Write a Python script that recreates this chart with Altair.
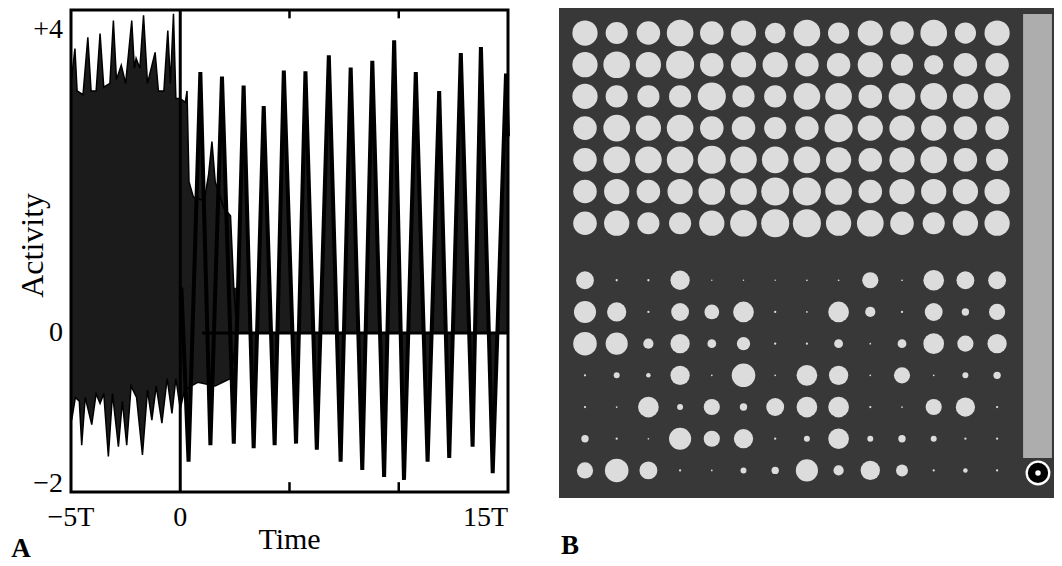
import math
import altair as alt
import pandas as pd

# ---------------- Panel A data ----------------
# upper envelope of the chaotic (pre-stimulus) activity and the transition
upper_t = [-5.0, -4.82, -4.72, -4.45, -4.23, -4.08, -3.85, -3.67, -3.5, -3.22, -3.06, -2.92,
           -2.70, -2.5, -2.22, -2.1, -2.02, -1.85, -1.68, -1.5, -1.15, -1.0, -0.75, -0.57,
           -0.45, -0.31, -0.2, 0.0, 0.23, 0.31, 0.40, 0.6, 1.1, 1.3, 1.45, 1.6, 2.0, 2.3, 2.45, 2.6]
upper_v = [3.3, 3.76, 3.2, 3.15, 3.91, 3.2, 3.2, 3.96, 3.25, 3.3, 4.13, 3.35,
           3.54, 3.3, 4.13, 3.5, 3.63, 3.5, 4.2, 3.3, 3.71, 3.2, 3.2, 4.0,
           3.3, 4.22, 3.1, 3.1, 3.05, 3.2, 2.0, 1.8, 1.75, 2.1, 2.53, 2.0, 1.65, 1.55, 0.6, 0.0]
# lower envelope
lower_t = [-5.0, -4.97, -4.8, -4.62, -4.51, -4.35, -4.05, -3.85, -3.67, -3.5, -3.29, -3.1,
           -2.83, -2.65, -2.45, -2.25, -2.0, -1.73, -1.5, -1.3, -1.1, -0.84, -0.6, -0.38,
           -0.2, 0.0, 0.2, 0.8, 1.6, 2.3, 2.6]
lower_v = [-1.0, -1.15, -0.85, -0.9, -1.48, -0.85, -1.21, -0.8, -0.93, -0.8, -1.63, -0.8,
           -1.5, -0.9, -1.48, -0.7, -0.85, -1.61, -0.75, -1.15, -0.7, -1.19, -0.6, -1.06,
           -0.6, -1.0, -0.75, -0.65, -0.7, -0.6, 0.0]
# post-stimulus oscillation: alternating troughs and peaks
osc_t = [0.05, 0.38, 0.92, 1.38, 1.91, 2.45, 2.9, 3.36, 3.82, 4.32, 4.74, 5.3, 5.73, 6.25,
         6.8, 7.34, 7.8, 8.33, 8.79, 9.33, 9.79, 10.24, 10.78, 11.32, 11.85, 12.31, 12.84,
         13.38, 13.76, 14.3, 14.91, 15.0]
osc_v = [0.6, -1.70, 3.45, -1.48, 3.39, -1.46, 3.27, -1.52, 3.0, -1.48, 3.47, -1.46, 3.46, -1.54,
         3.67, -1.70, 3.51, -1.81, 3.6, -1.90, 3.87, -1.94, 3.45, -1.70, 3.2, -1.65, 3.7,
         -1.5, 3.78, -1.85, 3.43, 2.6]

y_tick_values = [4, 0, -2]
y_tick_labels = ["+4", "0", "\u22122"]
x_center_values = [-5, 0]
x_center_labels = ["\u22125T", "0"]
x_right_values = [15]
x_right_labels = ["15T"]
minor_ticks = [5, 10]

# ---------------- Panel B data (unit activities, 0..1) ----------------
top_rows = [
    [.89, .78, .83, .94, .83, .89, .73, .94, .75, .89, .83, .94, .75, .89],
    [.89, .94, .89, .99, .83, .89, .89, .83, .83, .89, .78, .68, .83, .83],
    [.89, .78, .78, .78, .99, .78, .78, .94, .94, .83, .94, .94, .89, .94],
    [.83, .94, .89, .94, .83, .83, .78, .83, .99, .89, .89, .89, .83, .83],
    [.83, .94, .94, .94, .99, .94, .94, .94, .89, .83, .89, .94, .83, .78],
    [.83, .89, .83, .89, .94, .94, .99, .99, .94, .83, .89, .89, .89, .89],
    [.83, .89, .78, .78, .89, .94, .99, .99, .89, .94, .83, .78, .89, .89],
]
bottom_rows = [
    [.63, .08, .08, .68, .05, .05, .05, .06, .06, .57, .06, .73, .63, .63],
    [.78, .68, .08, .63, .52, .73, .08, .06, .73, .36, .08, .63, .26, .57],
    [.83, .78, .36, .68, .31, .47, .08, .08, .31, .06, .31, .73, .57, .68],
    [.08, .21, .16, .68, .06, .83, .06, .73, .68, .06, .57, .06, .21, .26],
    [.08, .06, .73, .21, .57, .26, .63, .73, .73, .08, .06, .57, .68, .08],
    [.26, .08, .06, .78, .57, .68, .08, .21, .73, .21, .26, .21, .08, .08],
    [.57, .83, .63, .08, .06, .21, .26, .78, .36, .68, .42, .08, .16, .08],
]

FONT = "Liberation Serif"
FILL = "#1b1b1b"

# ---------------- Panel A (left part of the drawing area) ----------------
xs = alt.Scale(domain=[-5, 15], range=[0, 437], nice=False, zero=False)
ys = alt.Scale(domain=[-2.1, 4.27], range=[482, 0], nice=False, zero=False)


def XA(field="t"):
    return alt.X(f"{field}:Q", scale=xs, axis=None)


def YA(field="v"):
    return alt.Y(f"{field}:Q", scale=ys, axis=None)


up_df = pd.DataFrame({"t": upper_t, "v": upper_v})
lo_df = pd.DataFrame({"t": lower_t, "v": lower_v})
osc_df = pd.DataFrame({"t": osc_t, "v": osc_v})

up_area = alt.Chart(up_df).mark_area(color=FILL).encode(x=XA(), y=YA(), y2=alt.datum(0.0))
up_line = alt.Chart(up_df).mark_line(color="black", strokeWidth=1.5).encode(x=XA(), y=YA())
lo_area = alt.Chart(lo_df).mark_area(color=FILL).encode(x=XA(), y=YA(), y2=alt.datum(0.6))
lo_line = alt.Chart(lo_df).mark_line(color="black", strokeWidth=1.5).encode(x=XA(), y=YA())
osc_area = alt.Chart(osc_df).mark_area(color=FILL).encode(x=XA(), y=YA(), y2=alt.datum(0))
osc_line = alt.Chart(osc_df).mark_line(color="black", strokeWidth=4).encode(x=XA(), y=YA())

zero_rule = alt.Chart(pd.DataFrame({"t": [1.0], "t2": [15.0], "v": [0.0]})).mark_rule(
    color="black", strokeWidth=3).encode(x=XA(), x2="t2:Q", y=YA())
v_rule = alt.Chart(pd.DataFrame({"t": [0.0], "v": [-2.1], "v2": [4.27]})).mark_rule(
    color="black", strokeWidth=3).encode(x=XA(), y=YA(), y2="v2:Q")
tick_df = pd.DataFrame({
    "t": minor_ticks + minor_ticks,
    "v": [4.27] * len(minor_ticks) + [-2.1] * len(minor_ticks),
    "v2": [4.16] * len(minor_ticks) + [-1.97] * len(minor_ticks),
})
ticks = alt.Chart(tick_df).mark_rule(color="black", strokeWidth=2.5).encode(x=XA(), y=YA(), y2="v2:Q")
frame = alt.Chart(pd.DataFrame({"t": [-5.0], "t2": [15.0], "v": [-2.1], "v2": [4.27]})).mark_rect(
    fillOpacity=0, stroke="black", strokeWidth=3).encode(x=XA(), x2="t2:Q", y=YA(), y2="v2:Q")

ylab = alt.Chart(pd.DataFrame({"t": [-5] * 3, "v": y_tick_values, "s": y_tick_labels})).mark_text(
    align="right", baseline="middle", dx=-8, font=FONT, fontSize=28, color="black").encode(
    x=XA(), y=YA(), text="s:N")
xlab_c = alt.Chart(pd.DataFrame({"t": x_center_values, "v": [-2.1] * 2, "s": x_center_labels})).mark_text(
    align="center", baseline="middle", dy=26, font=FONT, fontSize=28, color="black").encode(
    x=XA(), y=YA(), text="s:N")
xlab_r = alt.Chart(pd.DataFrame({"t": x_right_values, "v": [-2.1], "s": x_right_labels})).mark_text(
    align="right", baseline="middle", dy=26, font=FONT, fontSize=28, color="black").encode(
    x=XA(), y=YA(), text="s:N")
time_lab = alt.Chart(pd.DataFrame({"t": [5.0], "v": [-2.1], "s": ["Time"]})).mark_text(
    align="center", baseline="middle", dy=48, font=FONT, fontSize=30, color="black").encode(
    x=XA(), y=YA(), text="s:N")
act_lab = alt.Chart(pd.DataFrame({"t": [-5.0], "v": [1.16], "s": ["Activity"]})).mark_text(
    align="center", baseline="middle", angle=270, dy=-38, font=FONT, fontSize=32, color="black").encode(
    x=XA(), y=YA(), text="s:N")
a_lab = alt.Chart(pd.DataFrame({"t": [-5.0], "v": [-2.1], "s": ["A"]})).mark_text(
    align="center", baseline="middle", dx=-50, dy=57, font=FONT, fontSize=27, fontWeight="bold",
    color="black").encode(x=XA(), y=YA(), text="s:N")

panel_a = alt.layer(
    up_area, lo_area, osc_area, up_line, lo_line, osc_line, zero_rule, v_rule, ticks, frame,
    ylab, xlab_c, xlab_r, time_lab, act_lab, a_lab
)

# ---------------- Panel B (right part of the drawing area) ----------------
xb = alt.Scale(domain=[0.18, 15.795], range=[488, 983], nice=False, zero=False)
yb = alt.Scale(domain=[0.21, 15.67], range=[-2, 488], nice=False, zero=False)
DMAX = 32.0

recs = []
for i, row in enumerate(top_rows + bottom_rows):
    r = i + 1
    pos = r + (0.8 if r >= 8 else 0.0)
    for j, a in enumerate(row):
        d = a * DMAX
        recs.append({"c": j + 1, "r": pos, "area": math.pi / 4 * d * d})
cells = pd.DataFrame(recs)


def XB(field="c"):
    return alt.X(f"{field}:Q", scale=xb, axis=None)


def YB(field="r"):
    return alt.Y(f"{field}:Q", scale=yb, axis=None)


bg = alt.Chart(pd.DataFrame({"c": [0.18], "c2": [15.795], "r": [0.21], "r2": [15.67]})).mark_rect(
    color="#383838").encode(x=XB(), x2="c2:Q", y=YB(), y2="r2:Q")
strip = alt.Chart(pd.DataFrame({"c": [14.82], "c2": [15.73], "r": [0.40], "r2": [14.41]})).mark_rect(
    color="#adadad").encode(x=XB(), x2="c2:Q", y=YB(), y2="r2:Q")
dots = alt.Chart(cells).mark_circle(color="#dcdcdc", opacity=1).encode(
    x=XB(), y=YB(), size=alt.Size("area:Q", scale=None, legend=None))
sym_df = pd.DataFrame({"c": [15.29], "r": [14.88]})
sym1 = alt.Chart(sym_df).mark_circle(color="white", opacity=1, size=620).encode(x=XB(), y=YB())
sym2 = alt.Chart(sym_df).mark_circle(color="black", opacity=1, size=410).encode(x=XB(), y=YB())
sym3 = alt.Chart(sym_df).mark_circle(color="white", opacity=1, size=30).encode(x=XB(), y=YB())
b_lab = alt.Chart(pd.DataFrame({"c": [0.18], "r": [15.67], "s": ["B"]})).mark_text(
    align="center", baseline="middle", dx=11, dy=48, font=FONT, fontSize=27, fontWeight="bold",
    color="black").encode(x=XB(), y=YB(), text="s:N")

panel_b = alt.layer(bg, strip, dots, sym1, sym2, sym3, b_lab)

chart = alt.layer(panel_a, panel_b).resolve_scale(
    x="independent", y="independent"
).properties(
    width=983, height=488,
    background="white",
    autosize=alt.AutoSizeParams(type="none"),
    padding={"left": 63, "top": 2, "right": 0, "bottom": 64},
).configure_view(strokeWidth=0, stroke="transparent")

chart.save("out.html", embed_options={"renderer": "svg", "actions": False})
